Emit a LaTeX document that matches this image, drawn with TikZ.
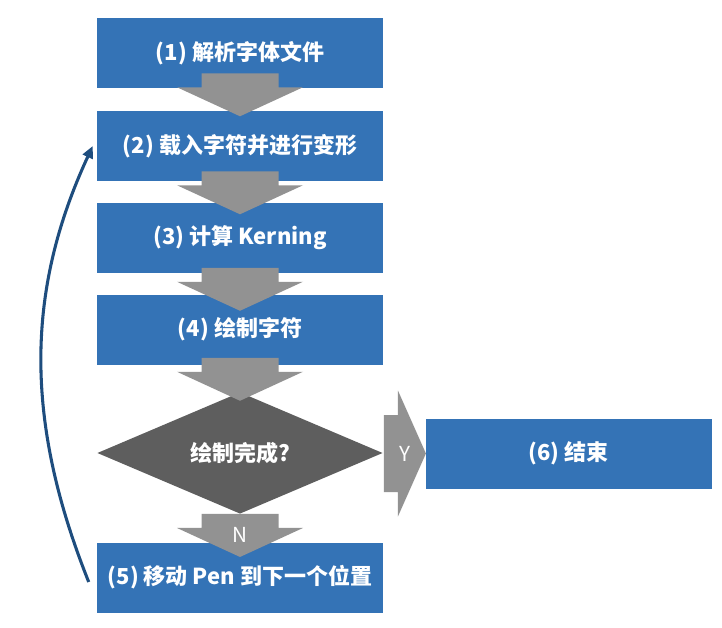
\documentclass[tikz,border=0pt]{standalone}
\usepackage{fontspec}
\setmainfont{Noto Sans CJK SC}
\usetikzlibrary{calc,shapes.geometric,arrows.meta}

\definecolor{stepblue}{RGB}{52,115,182}
\definecolor{blockgray}{RGB}{146,146,146}
\definecolor{decisiongray}{RGB}{94,94,94}
\definecolor{loopblue}{RGB}{30,77,126}

% block arrow pointing down; #1 is the middle of its tail
\newcommand\blockdown[1]{%
  \fill[blockgray] ($(#1)+(-38.5,0)$) -- ++(77,0) -- ++(0,14) -- ++(24.5,0)
    -- ($(#1)+(0,43)$) -- ($(#1)+(-63,14)$) -- ++(24.5,0) -- cycle;}
% block arrow pointing right; #1 is the middle of its tail
\newcommand\blockright[1]{%
  \fill[blockgray] ($(#1)+(0,-38.5)$) -- ++(14,0) -- ++(0,-24.5)
    -- ($(#1)+(42,0)$) -- ($(#1)+(14,63)$) -- ++(0,-24.5) -- ++(-14,0) -- cycle;}

\begin{document}
\begin{tikzpicture}[x=0.75pt,y=-0.75pt,
  stepbox/.style={rectangle,fill=stepblue,text=white,font=\bfseries\fontsize{16.5pt}{18pt}\selectfont,
    minimum width=214.5pt,minimum height=52.5pt,inner sep=0pt},
  decision/.style={diamond,fill=decisiongray,text=white,font=\bfseries\fontsize{16.5pt}{18pt}\selectfont,
    minimum width=214pt,minimum height=85.5pt,inner sep=0pt},
  branchlabel/.style={text=white,font=\fontsize{15.5pt}{17pt}\selectfont,inner sep=0pt}]
\useasboundingbox (0,0) rectangle (722,628);

% process steps
\node[stepbox] (b1) at (240,53)    {(1) 解析字体文件};
\node[stepbox] (b2) at (240,146)   {(2) 载入字符并进行变形};
\node[stepbox] (b3) at (240,237.5) {(3) 计算 Kerning};
\node[stepbox] (b4) at (240,329.5) {(4) 绘制字符};
\node[decision] (d) at (240,453)   {绘制完成?};
\node[stepbox] (b5) at (240,577.5) {(5) 移动 Pen 到下一个位置};
\node[stepbox] (b6) at (568.5,453.5) {(6) 结束};

% tails of the block arrows
\coordinate (a1) at ($(b1.south)+(0,-15)$);
\coordinate (a2) at ($(b2.south)+(0,-10)$);
\coordinate (a3) at ($(b3.south)+(0,-5)$);
\coordinate (a4) at ($(b4.south)+(0,-7)$);
\coordinate (an) at (d.south);
\coordinate (ay) at ($(d.east)+(1,0.5)$);

\blockdown{a1}
\blockdown{a2}
\blockdown{a3}
\blockdown{a4}
\blockdown{an}
\blockright{ay}

\node[branchlabel] (ln) at ($(an)+(0,21)$) {N};
\node[branchlabel] (ly) at ($(ay)+(21,0)$) {Y};

% loop back to step (2)
\coordinate (loopstart) at ($(b5.west)+(-8,4.5)$);
\coordinate (loopend) at ($(b2.west)+(-4,0)$);
\draw[loopblue,line width=2.3pt,-{Triangle[length=9pt,width=8pt]}]
  (loopstart) .. controls (24,420) and (26,290) .. (loopend);
\end{tikzpicture}
\end{document}
